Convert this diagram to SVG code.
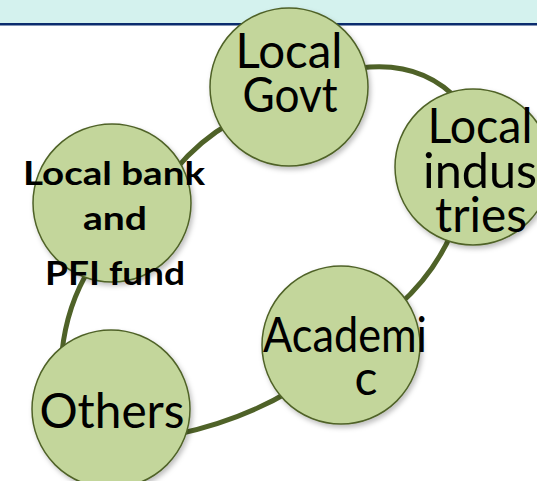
<svg xmlns="http://www.w3.org/2000/svg" width="537" height="481" viewBox="0 0 537 481">
<defs>
<filter id="sh" x="-20%" y="-20%" width="140%" height="140%">
<feDropShadow dx="2" dy="3" stdDeviation="2.5" flood-color="#000" flood-opacity="0.25"/>
</filter>
</defs>
<style>
.n{fill:#C3D69B;stroke:#4F6228;stroke-width:1.5;filter:url(#sh)}
.c{fill:none;stroke:#4F6228;stroke-width:5;stroke-linecap:butt}
.t{font-family:Lato,"Open Sans","Liberation Sans",sans-serif;font-size:48px;fill:#000;text-anchor:middle}
.b{font-family:Lato,"Open Sans","Liberation Sans",sans-serif;font-size:33px;font-weight:bold;fill:#000;text-anchor:middle}
</style>
<rect x="0" y="0" width="537" height="24" fill="#D4F2EE"/>
<rect x="0" y="23" width="537" height="2.5" fill="#0B2C6E"/>
<g id="connectors">
<path class="c" d="M 175 170 Q 200 140 232 122"/>
<path class="c" d="M 360 68 Q 422 60 460 102"/>
<path class="c" d="M 452 232 Q 434 274 398 306"/>
<path class="c" d="M 292 390 Q 242 420 178 434"/>
<path class="c" d="M 90 268 Q 67 305 62 352"/>
</g>
<g id="localgovt">
<circle class="n" cx="289" cy="87" r="79"/>
<text class="t" x="289" y="68" textLength="107" lengthAdjust="spacingAndGlyphs">Local</text>
<text class="t" x="290" y="112" textLength="95" lengthAdjust="spacingAndGlyphs">Govt</text>
</g>
<g id="localindustries">
<circle class="n" cx="473" cy="167" r="78"/>
<text class="t" x="480" y="143" textLength="105" lengthAdjust="spacingAndGlyphs">Local</text>
<text class="t" x="480" y="188" textLength="114" lengthAdjust="spacingAndGlyphs">indus</text>
<text class="t" x="481" y="232" textLength="92" lengthAdjust="spacingAndGlyphs">tries</text>
</g>
<g id="academic">
<circle class="n" cx="341" cy="345" r="79"/>
<text class="t" x="345" y="352" textLength="164" lengthAdjust="spacingAndGlyphs">Academi</text>
<text class="t" x="366" y="395">c</text>
</g>
<g id="others">
<circle class="n" cx="111" cy="409" r="79"/>
<text class="t" x="112" y="428" textLength="145" lengthAdjust="spacingAndGlyphs">Others</text>
</g>
<g id="localbank">
<circle class="n" cx="112" cy="203" r="79"/>
<text class="b" x="114" y="185" textLength="182" lengthAdjust="spacingAndGlyphs">Local bank</text>
<text class="b" x="115" y="230" textLength="64" lengthAdjust="spacingAndGlyphs">and</text>
<text class="b" x="115" y="285" textLength="140" lengthAdjust="spacingAndGlyphs">PFI fund</text>
</g>
</svg>
